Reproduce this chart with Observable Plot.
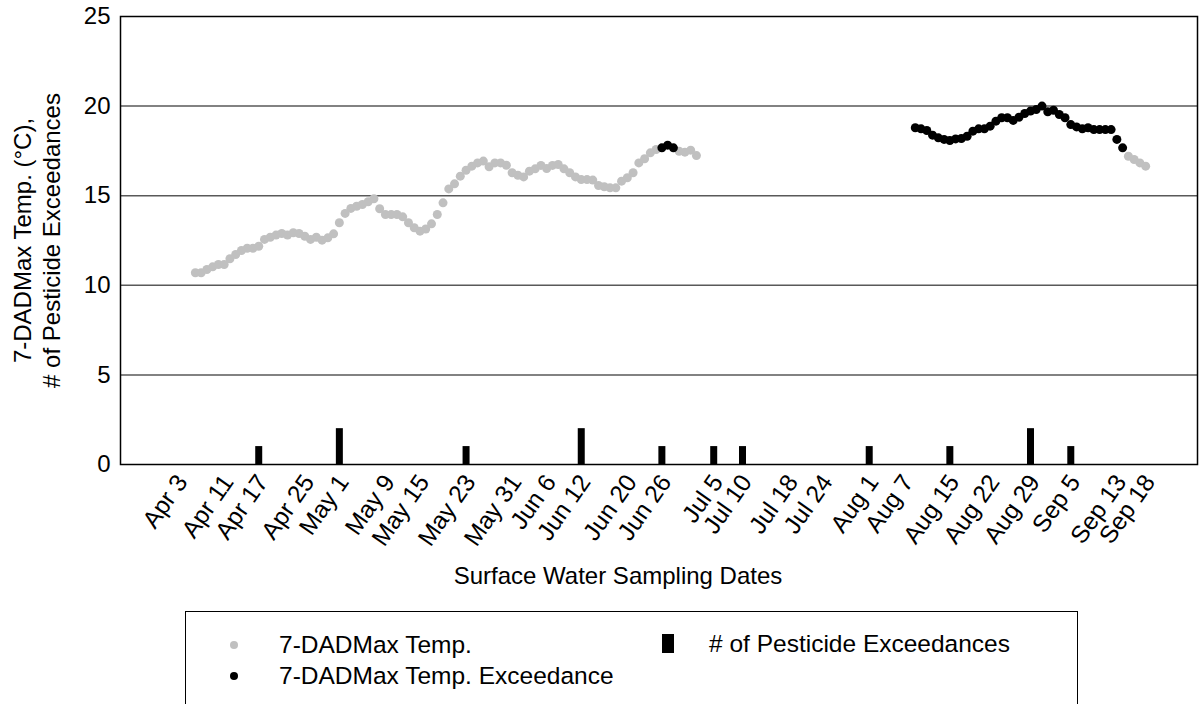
<!DOCTYPE html>
<html>
<head>
<meta charset="utf-8">
<script src="https://cdn.jsdelivr.net/npm/d3@7"></script>
<script src="https://cdn.jsdelivr.net/npm/@observablehq/plot@0.6"></script>
<style>
  body { margin: 0; background: #fff; font-family: "Liberation Sans", Arial, sans-serif; }
  #wrap { position: relative; width: 1200px; height: 704px; overflow: hidden; }
  #legend { position: absolute; left: 185px; top: 611px; width: 893px; height: 120px; border: 1.5px solid #000; box-sizing: border-box; }
  .lg { position: absolute; font-size: 24.5px; line-height: 30px; white-space: nowrap; color: #000; }
  .sym { position: absolute; }
</style>
</head>
<body>
<div id="wrap">
  <div id="chart"></div>
  <div id="legend"></div>
</div>
<script>
// ---- Data ----
const tickDates = ["2019-04-03","2019-04-11","2019-04-17","2019-04-25","2019-05-01","2019-05-09","2019-05-15","2019-05-23","2019-05-31","2019-06-06","2019-06-12","2019-06-20","2019-06-26","2019-07-05","2019-07-10","2019-07-18","2019-07-24","2019-08-01","2019-08-07","2019-08-15","2019-08-22","2019-08-29","2019-09-05","2019-09-13","2019-09-18"];
const tickLabels = ["Apr 3","Apr 11","Apr 17","Apr 25","May 1","May 9","May 15","May 23","May 31","Jun 6","Jun 12","Jun 20","Jun 26","Jul 5","Jul 10","Jul 18","Jul 24","Aug 1","Aug 7","Aug 15","Aug 22","Aug 29","Sep 5","Sep 13","Sep 18"];

// daily 7-DADMax temperature, first run (Apr 6 - Jul 2)
const temp1Start = "2019-04-06";
const temp1Values = [10.70,10.70,10.88,11.03,11.16,11.16,11.48,11.72,11.94,12.07,12.07,12.18,12.56,12.68,12.80,12.89,12.80,12.93,12.89,12.74,12.56,12.68,12.52,12.65,12.87,
  13.49,14.01,14.29,14.41,14.51,14.66,14.83,14.27,13.95,13.95,13.95,13.82,13.49,13.21,13.02,13.14,13.43,
  13.95,14.60,15.38,15.66,16.09,16.42,16.65,16.83,16.93,16.61,16.83,16.83,16.70,16.28,
  16.14,16.05,16.37,16.50,16.69,16.52,16.69,16.74,16.50,16.28,16.05,15.90,15.90,15.87,15.57,15.50,15.44,15.44,15.81,16.00,16.28,16.83,17.06,17.39,17.58,17.67,17.82,17.67,17.48,17.43,
  17.54,17.24];
// daily 7-DADMax temperature, second run (Aug 9 - Sep 18)
const temp2Start = "2019-08-09";
const temp2Values = [18.79,18.73,18.64,18.38,18.23,18.14,18.08,18.17,18.19,18.32,18.60,18.73,18.73,18.88,19.16,19.35,19.35,19.20,19.38,19.59,19.72,19.81,20.00,
  19.68,19.77,19.53,19.35,18.97,18.84,18.73,18.79,18.69,18.69,18.69,18.69,18.14,17.67,17.20,17.02,16.83,16.65];
// periods where the temperature is an exceedance
const exceedFrom = ["2019-06-26","2019-08-09"];
const exceedTo = ["2019-06-28","2019-09-14"];

// pesticide exceedances per sampling date
const pestDates = ["2019-04-17","2019-05-01","2019-05-23","2019-06-12","2019-06-26","2019-07-05","2019-07-10","2019-08-01","2019-08-15","2019-08-29","2019-09-05"];
const pestCounts = [1,2,1,2,1,1,1,1,1,2,1];

const yTicks = [0,5,10,15,20,25];
const gridValues = [5,10,15,20];

// ---- Build tables ----
const DAY = 86400000;
function series(start, values) {
  const t0 = new Date(start).getTime();
  return values.map((v, i) => ({date: new Date(t0 + i * DAY), value: v}));
}
const temps = series(temp1Start, temp1Values).concat(series(temp2Start, temp2Values));
const isExceed = d => exceedFrom.some((f, i) => d.date >= new Date(f) && d.date <= new Date(exceedTo[i]));
const tempNormal = temps.filter(d => !isExceed(d));
const tempExceed = temps.filter(d => isExceed(d));
const pest = pestDates.map((d, i) => ({date: new Date(d), count: pestCounts[i]}));
const tickObjs = tickDates.map(d => new Date(d));
const labelMap = new Map(tickDates.map((d, i) => [new Date(d).getTime(), tickLabels[i]]));

const FONT = "'Liberation Sans', Arial, sans-serif";

const chart = Plot.plot({
  width: 1200,
  height: 605,
  marginLeft: 120,
  marginRight: 3,
  marginTop: 16,
  marginBottom: 141,
  style: {fontFamily: FONT, fontSize: "24px", color: "#000", background: "#fff", overflow: "visible"},
  x: {type: "utc", domain: [new Date("2019-03-24"), new Date("2019-09-27")]},
  y: {domain: [0, 25]},
  marks: [
    Plot.ruleY(gridValues, {stroke: "#595959", strokeWidth: 1.5}),
    Plot.ruleX(pest, {x: "date", y1: 0, y2: "count", stroke: "#000", strokeWidth: 7}),
    Plot.dot(tempNormal, {x: "date", y: "value", r: 4.5, fill: "#c0c0c0", stroke: null}),
    Plot.dot(tempExceed, {x: "date", y: "value", r: 4.5, fill: "#000", stroke: null}),
    Plot.frame({stroke: "#000", strokeWidth: 1.5}),
    Plot.axisY(yTicks, {tickSize: 0, tickPadding: 10, fontSize: 24, label: null}),
    Plot.axisX(tickObjs, {tickFormat: d => labelMap.get(d.getTime()), tickRotate: -55, tickSize: 0, tickPadding: 10, dx: 4, dy: 3, fontSize: 24.5, label: null}),
    Plot.text([0], {frameAnchor: "left", textAnchor: "middle", lineAnchor: "middle", text: () => "7-DADMax Temp. (°C),\n# of Pesticide Exceedances", rotate: -90, dx: -84, lineHeight: 1.2, fontSize: 24}),
    Plot.text([0], {frameAnchor: "bottom", textAnchor: "middle", text: () => "Surface Water Sampling Dates", dy: 119, dx: -41, fontSize: 24})
  ]
});
document.getElementById("chart").appendChild(chart);

// ---- Legend ----
const legendItems = [
  {label: "7-DADMax Temp.", kind: "dot", color: "#c0c0c0", sx: 48, sy: 33, tx: 93},
  {label: "7-DADMax Temp. Exceedance", kind: "dot", color: "#000", sx: 48, sy: 64, tx: 93},
  {label: "# of Pesticide Exceedances", kind: "bar", color: "#000", sx: 482, sy: 32, tx: 523}
];
const legend = document.getElementById("legend");
for (const it of legendItems) {
  const s = document.createElement("div");
  s.className = "sym";
  if (it.kind === "dot") {
    s.style.cssText = `left:${it.sx - 4}px;top:${it.sy - 4}px;width:8px;height:8px;border-radius:50%;background:${it.color};`;
  } else {
    s.style.cssText = `left:${it.sx - 6}px;top:${it.sy - 10}px;width:12px;height:19px;background:${it.color};`;
  }
  legend.appendChild(s);
  const t = document.createElement("div");
  t.className = "lg";
  t.textContent = it.label;
  t.style.left = it.tx + "px";
  t.style.top = (it.sy - 15) + "px";
  legend.appendChild(t);
}
</script>
</body>
</html>
